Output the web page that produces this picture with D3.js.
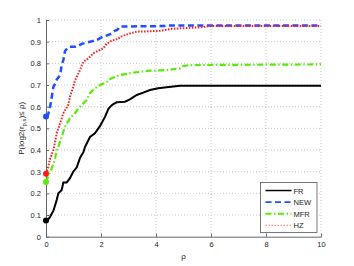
<!DOCTYPE html>
<html>
<head>
<meta charset="utf-8">
<script src="https://cdn.jsdelivr.net/npm/d3@7"></script>
<style>
  body { margin: 0; background: #fff; }
  text { font-family: "Liberation Sans", Arial, sans-serif; }
</style>
</head>
<body>
<div id="chart"></div>
<script>
// series values (rho, probability)
const frX = [0, 0.08, 0.15, 0.27, 0.39, 0.45, 0.57, 0.63, 0.75, 0.87, 0.99, 1.12, 1.24, 1.36, 1.42, 1.6, 1.78, 1.96, 2.15, 2.27, 2.39, 2.45, 2.57, 2.87, 3.05, 3.3, 3.54, 3.78, 4.08, 4.39, 4.87, 10];
const frY = [0.075, 0.08, 0.092, 0.12, 0.17, 0.20, 0.215, 0.25, 0.25, 0.27, 0.30, 0.32, 0.365, 0.39, 0.415, 0.46, 0.477, 0.51, 0.554, 0.59, 0.607, 0.612, 0.62, 0.623, 0.634, 0.654, 0.665, 0.677, 0.685, 0.69, 0.697, 0.697];

const newX = [0, 0.08, 0.15, 0.21, 0.27, 0.33, 0.39, 0.51, 0.57, 0.63, 0.69, 0.81, 0.87, 1.12, 1.3, 1.6, 1.84, 2.05, 2.3, 2.5, 2.6, 2.69, 4.3, 4.4, 10];
const newY = [0.555, 0.565, 0.60, 0.646, 0.692, 0.705, 0.725, 0.745, 0.79, 0.815, 0.857, 0.874, 0.877, 0.877, 0.89, 0.90, 0.907, 0.922, 0.932, 0.95, 0.955, 0.97, 0.972, 0.975, 0.975];

const mfrX = [0, 0.08, 0.21, 0.33, 0.39, 0.45, 0.57, 0.69, 0.87, 1.05, 1.18, 1.3, 1.48, 1.6, 1.78, 1.96, 2.2, 2.33, 2.69, 3.18, 3.78, 4.39, 4.87, 5.0, 5.24, 10];
const mfrY = [0.252, 0.277, 0.316, 0.36, 0.40, 0.415, 0.461, 0.508, 0.546, 0.57, 0.592, 0.608, 0.631, 0.662, 0.685, 0.70, 0.712, 0.728, 0.746, 0.757, 0.766, 0.769, 0.777, 0.788, 0.792, 0.795];

const hzX = [0, 0.08, 0.15, 0.27, 0.39, 0.51, 0.63, 0.81, 0.87, 0.99, 1.05, 1.12, 1.24, 1.36, 1.54, 1.72, 1.9, 2.08, 2.2, 2.39, 2.63, 2.69, 3.05, 3.3, 4.15, 4.63, 5.6, 5.96, 10];
const hzY = [0.29, 0.32, 0.36, 0.40, 0.477, 0.523, 0.57, 0.608, 0.646, 0.69, 0.72, 0.738, 0.77, 0.808, 0.823, 0.846, 0.858, 0.869, 0.89, 0.905, 0.913, 0.922, 0.938, 0.946, 0.95, 0.96, 0.966, 0.972, 0.972];

const seriesNames = ['FR', 'NEW', 'MFR', 'HZ'];
const seriesColors = ['#000000', '#1f4fff', '#55ee00', '#ff1a1a'];
const seriesDash = [null, '6,3.5', '6,2.5,1.5,2.5', '1.5,1.5'];
const seriesWidth = [2, 2.5, 2.2, 2];

const xTicks = [0, 2, 4, 6, 8, 10];
const yTicks = [0, 0.1, 0.2, 0.3, 0.4, 0.5, 0.6, 0.7, 0.8, 0.9, 1];

const svgWidth = 354;
const svgHeight = 266;
const margin = {top: 20, right: 33, bottom: 29.3, left: 46};
const width = svgWidth - margin.left - margin.right;
const height = svgHeight - margin.top - margin.bottom;

const svg = d3.select('#chart').append('svg')
    .attr('width', svgWidth)
    .attr('height', svgHeight);

const g = svg.append('g')
    .attr('transform', `translate(${margin.left}, ${margin.top})`);

const x = d3.scaleLinear().domain([0, 10]).range([0, width]);
const y = d3.scaleLinear().domain([0, 1]).range([height, 0]);

// dotted grid
g.append('g').selectAll('line')
    .data(xTicks.slice(1))
    .join('line')
    .attr('x1', d => x(d)).attr('x2', d => x(d))
    .attr('y1', 0).attr('y2', height)
    .attr('stroke', '#bbb').attr('stroke-width', 0.8)
    .attr('stroke-dasharray', '1,2');
g.append('g').selectAll('line')
    .data(yTicks.slice(1))
    .join('line')
    .attr('x1', 0).attr('x2', width)
    .attr('y1', d => y(d)).attr('y2', d => y(d))
    .attr('stroke', '#bbb').attr('stroke-width', 0.8)
    .attr('stroke-dasharray', '1,2');

// axes
const xAxis = g.append('g')
    .attr('transform', `translate(0, ${height})`)
    .call(d3.axisBottom(x).tickValues(xTicks).tickSizeInner(-3).tickSizeOuter(0).tickPadding(5));
const yAxis = g.append('g')
    .call(d3.axisLeft(y).tickValues(yTicks).tickSizeInner(-3).tickSizeOuter(0).tickPadding(5)
      .tickFormat(d => d === 0 || d === 1 ? d3.format('d')(d) : d3.format('.1f')(d)));

[xAxis, yAxis].forEach(a => {
  a.select('.domain').attr('stroke', '#666').attr('stroke-width', 1);
  a.selectAll('.tick line').attr('stroke', '#666');
  a.selectAll('.tick text').attr('fill', '#222').style('font-size', '7.5px')
      .style('font-family', '"Liberation Sans", Arial, sans-serif');
});

// curves
const allX = [frX, newX, mfrX, hzX];
const allY = [frY, newY, mfrY, hzY];
const line = d3.line().x(d => x(d[0])).y(d => y(d[1]));

seriesNames.forEach((name, i) => {
  const pts = d3.zip(allX[i], allY[i]);
  g.append('path')
      .datum(pts)
      .attr('d', line)
      .attr('fill', 'none')
      .attr('stroke', seriesColors[i])
      .attr('stroke-width', seriesWidth[i])
      .attr('stroke-dasharray', seriesDash[i]);
});

// start markers
seriesNames.forEach((name, i) => {
  g.append('circle')
      .attr('cx', x(allX[i][0]))
      .attr('cy', y(allY[i][0]))
      .attr('r', 3)
      .attr('fill', seriesColors[i]);
});

// axis labels
svg.append('text')
    .attr('x', margin.left + width / 2)
    .attr('y', 259)
    .attr('text-anchor', 'middle')
    .style('font-size', '8px')
    .attr('fill', '#222')
    .text('ρ');

const yLab = svg.append('text')
    .attr('transform', `translate(24, ${margin.top + height / 2}) rotate(-90)`)
    .attr('text-anchor', 'middle')
    .style('font-size', '8px')
    .attr('fill', '#222');
yLab.append('tspan').text('P(log2(r');
yLab.append('tspan').attr('dy', 2).style('font-size', '6px').text('p,s');
yLab.append('tspan').attr('dy', -2).text(')≤ ρ)');

// legend
const legend = g.append('g')
    .attr('transform', `translate(${x(7.8)}, ${y(0.25)})`);
legend.append('rect')
    .attr('width', 56.5).attr('height', 50)
    .attr('fill', '#fff').attr('stroke', '#555').attr('stroke-width', 0.8);
seriesNames.forEach((name, i) => {
  const ly = 8 + i * 11.6;
  legend.append('line')
      .attr('x1', 5).attr('x2', 31)
      .attr('y1', ly).attr('y2', ly)
      .attr('stroke', seriesColors[i])
      .attr('stroke-width', i === 3 ? 1.2 : (i === 0 ? 1.5 : 1.8))
      .attr('stroke-dasharray', seriesDash[i])
      .attr('opacity', i === 3 ? 0.5 : 1);
  legend.append('text')
      .attr('x', 33).attr('y', ly + 3)
      .style('font-size', '7.5px')
      .attr('fill', '#222')
      .text(name);
});
</script>
</body>
</html>
